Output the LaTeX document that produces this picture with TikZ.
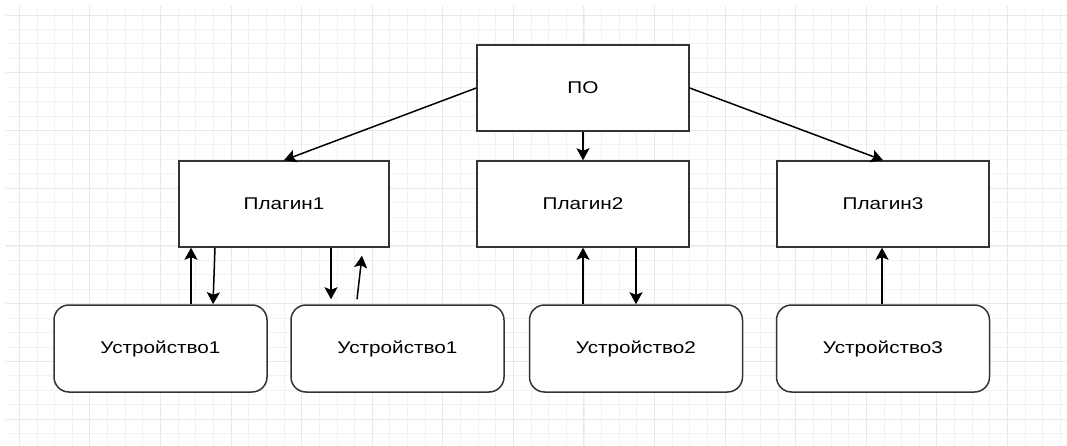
\documentclass[tikz,border=0pt]{standalone}
\usepackage{fontspec}
\usepackage{graphicx}
\setmainfont{Liberation Sans}
\usetikzlibrary{arrows.meta,calc}
\newcommand\stretchtxt[1]{\scalebox{1.22}[1]{#1}}
\begin{document}
\begin{tikzpicture}[x=1pt,y=-1pt,
  gridminor/.style={draw=black!5, line width=0.8pt},
  gridmajor/.style={draw=black!9, line width=0.9pt},
  box/.style={draw=black!80, line width=1.5pt, fill=white, minimum width=212pt, minimum height=86pt, inner sep=0pt, font=\fontsize{17}{20}\selectfont},
  dev/.style={box, rounded corners=15pt, minimum height=87pt, minimum width=213pt},
  arr/.style={draw=black, line width=1.5pt, -{Stealth[length=12pt,width=13pt,inset=2.5pt]}}]
\useasboundingbox (0,0) rectangle (1067,446);
\fill[white] (0,0) rectangle (1067,446);
\begin{scope}
\clip (6,6) rectangle (1067,446);
\foreach \i in {0,...,59} {\pgfmathsetmacro\xx{19.3+17.645*\i}\draw[gridminor] (\xx,6) -- (\xx,446);}
\foreach \i in {0,...,29} {\pgfmathsetmacro\yy{15+14.433*\i}\draw[gridminor] (6,\yy) -- (1067,\yy);}
\foreach \i in {0,...,14} {\pgfmathsetmacro\xx{19.3+70.58*\i}\draw[gridmajor] (\xx,6) -- (\xx,446);}
\foreach \i in {0,...,7} {\pgfmathsetmacro\yy{15+57.73*\i}\draw[gridmajor] (6,\yy) -- (1067,\yy);}
\end{scope}

\node[box] (po) at (583,88) {\stretchtxt{ПО}};
\node[box, minimum width=210pt] (p1) at (284,204) {\stretchtxt{Плагин1}};
\node[box] (p2) at (583,204) {\stretchtxt{Плагин2}};
\node[box] (p3) at (883,204) {\stretchtxt{Плагин3}};

\node[dev] (d1) at (160.5,348.5) {\stretchtxt{Устройство1}};
\node[dev] (d2) at (397.5,348.5) {\stretchtxt{Устройство1}};
\node[dev] (d3) at (636,348.5) {\stretchtxt{Устройство2}};
\node[dev] (d4) at (883,348.5) {\stretchtxt{Устройство3}};

\draw[arr] (po.west) -- (p1.north);
\draw[arr] (po.south) -- (p2.north);
\draw[arr] (po.east) -- (p3.north);

\draw[arr] (d1.north -| 191,0) -- (p1.south -| 191,0);
\draw[arr] (p1.south -| 215,0) -- (d1.north -| 213,0);
\draw[arr] (p1.south -| 331,0) -- ($(d2.north -| 331,0)+(0,-5)$);
\draw[arr] ($(d2.north -| 357,0)+(0,-5)$) -- ($(p1.south -| 362,0)+(0,8)$);

\draw[arr] (d3.north -| 583,0) -- (p2.south -| 583,0);
\draw[arr] (p2.south -| 636,0) -- (d3.north -| 636,0);

\draw[arr] (d4.north -| 882,0) -- (p3.south -| 882,0);
\end{tikzpicture}
\end{document}
